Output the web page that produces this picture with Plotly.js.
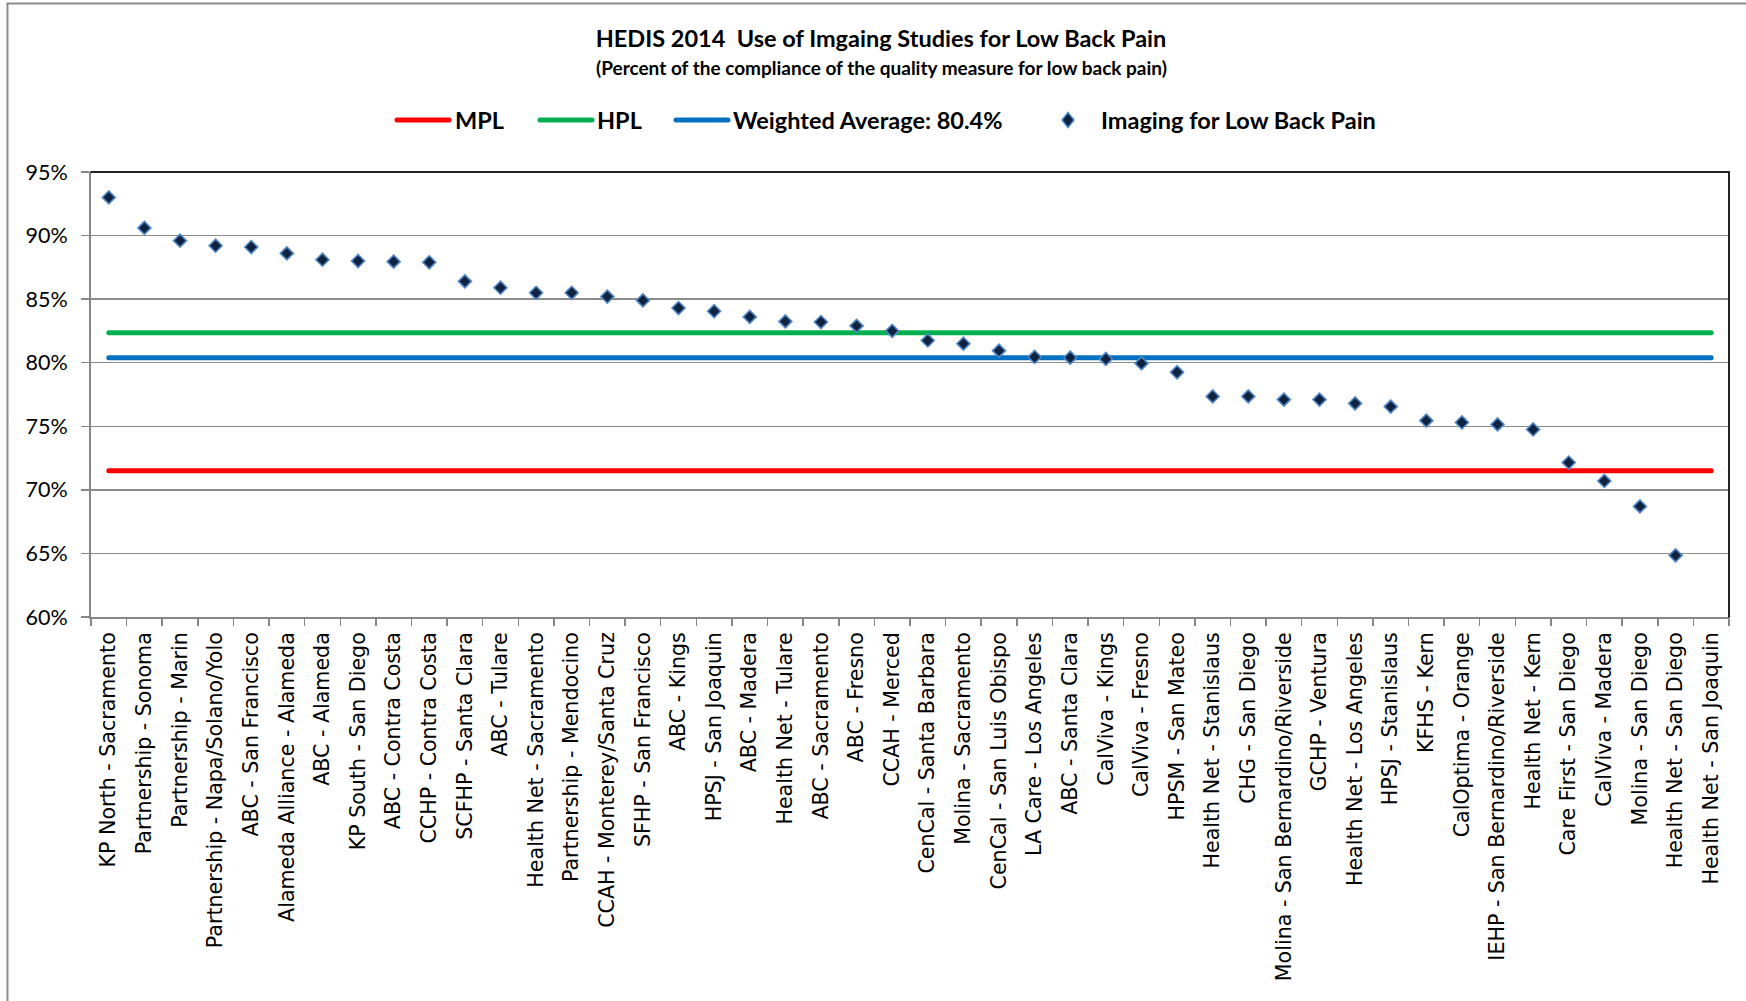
<!DOCTYPE html>
<html>
<head>
<meta charset="utf-8">
<script src="https://cdn.plot.ly/plotly-3.0.1.min.js"></script>
<style>
  html, body { margin: 0; padding: 0; background: #ffffff; }
  #chart { width: 1746px; height: 1001px; }
  .scatterlayer .js-line { stroke-linecap: round !important; }
  .shapelayer path { stroke-linecap: round !important; }
</style>
</head>
<body>
<div id="chart"></div>
<script>
// ---- data ----
const categories = [
  "KP North - Sacramento", "Partnership - Sonoma", "Partnership - Marin",
  "Partnership - Napa/Solano/Yolo", "ABC - San Francisco", "Alameda Alliance - Alameda",
  "ABC - Alameda", "KP South - San Diego", "ABC - Contra Costa", "CCHP - Contra Costa",
  "SCFHP - Santa Clara", "ABC - Tulare", "Health Net - Sacramento", "Partnership - Mendocino",
  "CCAH - Monterey/Santa Cruz", "SFHP - San Francisco", "ABC - Kings", "HPSJ - San Joaquin",
  "ABC - Madera", "Health Net - Tulare", "ABC - Sacramento", "ABC - Fresno", "CCAH - Merced",
  "CenCal - Santa Barbara", "Molina - Sacramento", "CenCal - San Luis Obispo",
  "LA Care - Los Angeles", "ABC - Santa Clara", "CalViva - Kings", "CalViva - Fresno",
  "HPSM - San Mateo", "Health Net - Stanislaus", "CHG - San Diego",
  "Molina - San Bernardino/Riverside", "GCHP - Ventura", "Health Net - Los Angeles",
  "HPSJ - Stanislaus", "KFHS - Kern", "CalOptima - Orange", "IEHP - San Bernardino/Riverside",
  "Health Net - Kern", "Care First - San Diego", "CalViva - Madera", "Molina - San Diego",
  "Health Net - San Diego", "Health Net - San Joaquin"
];
const imagingValues = [
  93.0, 90.6, 89.6, 89.2, 89.1, 88.6, 88.1, 88.0, 87.95, 87.9,
  86.4, 85.9, 85.5, 85.5, 85.2, 84.9, 84.3, 84.05, 83.6, 83.25,
  83.2, 82.9, 82.5, 81.75, 81.5, 80.95, 80.45, 80.4, 80.3, 79.95,
  79.25, 77.35, 77.35, 77.1, 77.1, 76.8, 76.55, 75.45, 75.3, 75.15,
  74.75, 72.15, 70.7, 68.7, 64.85, null
];
const mplValue = 71.5;
const hplValue = 82.35;
const weightedAverage = 80.4;
const seriesNames = ["MPL", "HPL", "Weighted Average: 80.4%", "Imaging for Low Back Pain"];
const yTickValues = [60, 65, 70, 75, 80, 85, 90, 95];

// ---- layout helpers (pixel geometry of the page) ----
const W = 1746, H = 1001;
const L = 91, R = 1729, T = 172, B = 617;
const px2x = p => (p - L) / (R - L);
const py2y = p => (B - p) / (B - T);

const lineColors = ["#ff0000", "#00b050", "#0070c0"];
const markerFill = "#0f2340";
const markerEdge = "#4f86c6";
const calibriLike = "Lato, 'Liberation Sans', sans-serif";

const firstCat = categories[0];
const lastCat = categories[categories.length - 1];
const levels = [mplValue, hplValue, weightedAverage];

const traces = levels.map((v, i) => ({
  type: "scatter",
  mode: "lines",
  name: seriesNames[i],
  x: [firstCat, lastCat],
  y: [v, v],
  line: { color: lineColors[i], width: 5 },
  hoverinfo: "skip",
  showlegend: false
}));
traces.push({
  type: "scatter",
  mode: "markers",
  name: seriesNames[3],
  x: categories,
  y: imagingValues,
  marker: { symbol: "diamond", size: 10, color: markerFill, line: { color: markerEdge, width: 1.6 } },
  showlegend: false
});

// ---- custom legend (shapes + text) ----
const legendY = 120;
const legendLines = [[397, 449], [540, 592], [676, 728]];
const legendTextX = [453, 595, 731, 1099];
const shapes = [];
legendLines.forEach((seg, i) => {
  shapes.push({
    type: "line", xref: "paper", yref: "paper",
    x0: px2x(seg[0]), x1: px2x(seg[1]), y0: py2y(legendY), y1: py2y(legendY),
    line: { color: lineColors[i], width: 5 }
  });
});
shapes.push({
  type: "path", xref: "paper", yref: "paper",
  xsizemode: "pixel", ysizemode: "pixel",
  xanchor: px2x(1068), yanchor: py2y(legendY),
  path: "M 0 7.5 L 6 0 L 0 -7.5 L -6 0 Z",
  fillcolor: markerFill, line: { color: markerEdge, width: 1.5 }
});
// plot area top / right border
shapes.push({ type: "line", xref: "paper", yref: "paper", x0: 0, x1: 1, y0: 1, y1: 1, line: { color: "#222222", width: 2 } });
shapes.push({ type: "line", xref: "paper", yref: "paper", x0: 1, x1: 1, y0: 0, y1: 1, line: { color: "#222222", width: 2 } });
// outer chart frame (top and left edges visible)
shapes.push({ type: "line", xref: "paper", yref: "paper", x0: px2x(7.5), x1: px2x(W + 5), y0: py2y(3.5), y1: py2y(3.5), line: { color: "#8c8c8c", width: 2 } });
shapes.push({ type: "line", xref: "paper", yref: "paper", x0: px2x(7.5), x1: px2x(7.5), y0: py2y(3.5), y1: py2y(H + 5), line: { color: "#8c8c8c", width: 2 } });

const annotations = seriesNames.map((n, i) => ({
  xref: "paper", yref: "paper",
  x: px2x(legendTextX[i]), y: py2y(legendY),
  xanchor: "left", yanchor: "middle",
  text: n, showarrow: false,
  font: { family: calibriLike, size: 23.5, color: "#000000", weight: 700 }
}));
annotations.push({
  xref: "paper", yref: "paper",
  x: px2x(881), y: py2y(67),
  xanchor: "center", yanchor: "middle",
  text: "(Percent of the compliance of the quality measure for low back pain)",
  showarrow: false,
  font: { family: calibriLike, size: 19, color: "#000000", weight: 700 }
});

const layout = {
  width: W, height: H,
  margin: { l: L, r: W - R, t: T, b: H - B, pad: 0 },
  paper_bgcolor: "#ffffff",
  plot_bgcolor: "#ffffff",
  showlegend: false,
  title: {
    text: "HEDIS 2014  Use of Imgaing Studies for Low Back Pain",
    xref: "container", yref: "container",
    x: 881 / W, y: 1 - 39 / H, xanchor: "center", yanchor: "middle",
    font: { family: calibriLike, size: 23.5, color: "#000000", weight: 700 }
  },
  xaxis: {
    type: "category",
    categoryorder: "array",
    categoryarray: categories,
    range: [-0.5, categories.length - 0.5],
    showgrid: false,
    showline: true, linecolor: "#868686", linewidth: 2,
    ticks: "outside", tickson: "boundaries", ticklen: 7, tickcolor: "#868686", tickwidth: 1.5,
    tickangle: -90,
    tickfont: { family: "'DejaVu Sans', sans-serif", size: 20.6, color: "#000000" },
    ticklabelstandoff: 5,
    zeroline: false,
    fixedrange: true
  },
  yaxis: {
    range: [60, 95],
    tickvals: yTickValues,
    ticktext: yTickValues.map(v => v + "%"),
    showgrid: true, gridcolor: "#8c8c8c", gridwidth: 1.5,
    showline: true, linecolor: "#868686", linewidth: 2,
    ticks: "outside", ticklen: 8, tickcolor: "#868686", tickwidth: 1.5,
    tickfont: { family: calibriLike, size: 21.5, color: "#000000" },
    ticklabelstandoff: 9,
    zeroline: false,
    fixedrange: true
  },
  shapes: shapes,
  annotations: annotations
};

Plotly.newPlot("chart", traces, layout, { displayModeBar: false, staticPlot: true });
</script>
</body>
</html>
